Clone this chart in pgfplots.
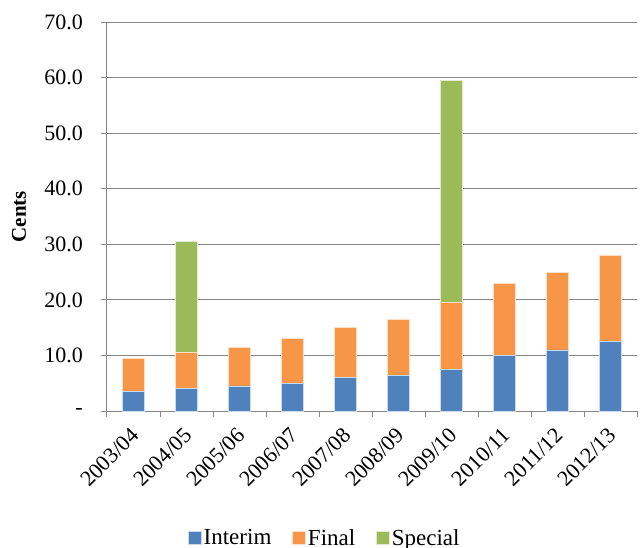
\documentclass[border=0pt]{standalone}
\usepackage{pgfplots}
\pgfplotsset{compat=1.18}
\usepackage{fontspec}
\setmainfont{Liberation Serif}
\definecolor{cblue}{HTML}{4F81BD}
\definecolor{corange}{HTML}{F79646}
\definecolor{cgreen}{HTML}{9BBB59}
\definecolor{cgrid}{HTML}{868686}
\begin{document}
\begin{tikzpicture}
\path[use as bounding box] (0,0) rectangle (640pt,547pt);
\begin{axis}[
  at={(107pt,136pt)}, anchor=south west,
  scale only axis, width=530pt, height=389pt,
  ybar stacked, bar width=22pt,
  xmin=-0.5, xmax=9.5, ymin=0, ymax=70,
  xtick={0,...,9},
  xticklabels={2003/04,2004/05,2005/06,2006/07,2007/08,2008/09,2009/10,2010/11,2011/12,2012/13},
  minor xtick={-0.5,0.5,...,9.5},
  major x tick style={draw=none},
  minor x tick style={cgrid, line width=1pt},
  ytick={0,10,...,70},
  yticklabels={-,10.0,20.0,30.0,40.0,50.0,60.0,70.0},
  ymajorgrids, grid style={cgrid, line width=1pt},
  y tick style={cgrid, line width=1pt},
  tick align=outside, major tick length=6pt, minor tick length=6pt,
  axis x line*=bottom, axis y line*=left,
  axis line style={cgrid, line width=1pt, -},
  tick label style={font=\fontsize{22}{25}\selectfont, inner sep=0pt},
  y tick label style={xshift=-18pt},
  x tick label style={rotate=45, anchor=north east, xshift=-9pt, yshift=-4pt},
  ylabel={\textbf{Cents}},
  every axis y label/.style={at={(axis description cs:-0.166,0.5)}, rotate=90, anchor=center, font=\fontsize{21}{24}\selectfont},
  legend columns=3,
  legend style={draw=none, at={(axis description cs:0.411,-0.3265)}, anchor=center,
    /tikz/every even column/.append style={column sep=19pt},
    font=\fontsize{23}{26}\selectfont, inner sep=0pt,
    nodes={inner sep=2pt}},
  legend image code/.code={\fill[#1] (-1pt,-6.5pt) rectangle (12pt,6.5pt);},
]
\addplot[fill=cblue, draw=white!70!cblue, line width=0.6pt] coordinates {(0,3.5) (1,4.0) (2,4.5) (3,5.0) (4,6.0) (5,6.5) (6,7.5) (7,10.0) (8,11.0) (9,12.5)};
\addplot[fill=corange, draw=white!70!corange, line width=0.6pt] coordinates {(0,6.0) (1,6.5) (2,7.0) (3,8.0) (4,9.0) (5,10.0) (6,12.0) (7,13.0) (8,14.0) (9,15.5)};
\addplot[fill=cgreen, draw=white!70!cgreen, line width=0.6pt] coordinates {(0,0) (1,20.0) (2,0) (3,0) (4,0) (5,0) (6,40.0) (7,0) (8,0) (9,0)};
\legend{Interim,Final,Special}
\end{axis}
\end{tikzpicture}
\end{document}
